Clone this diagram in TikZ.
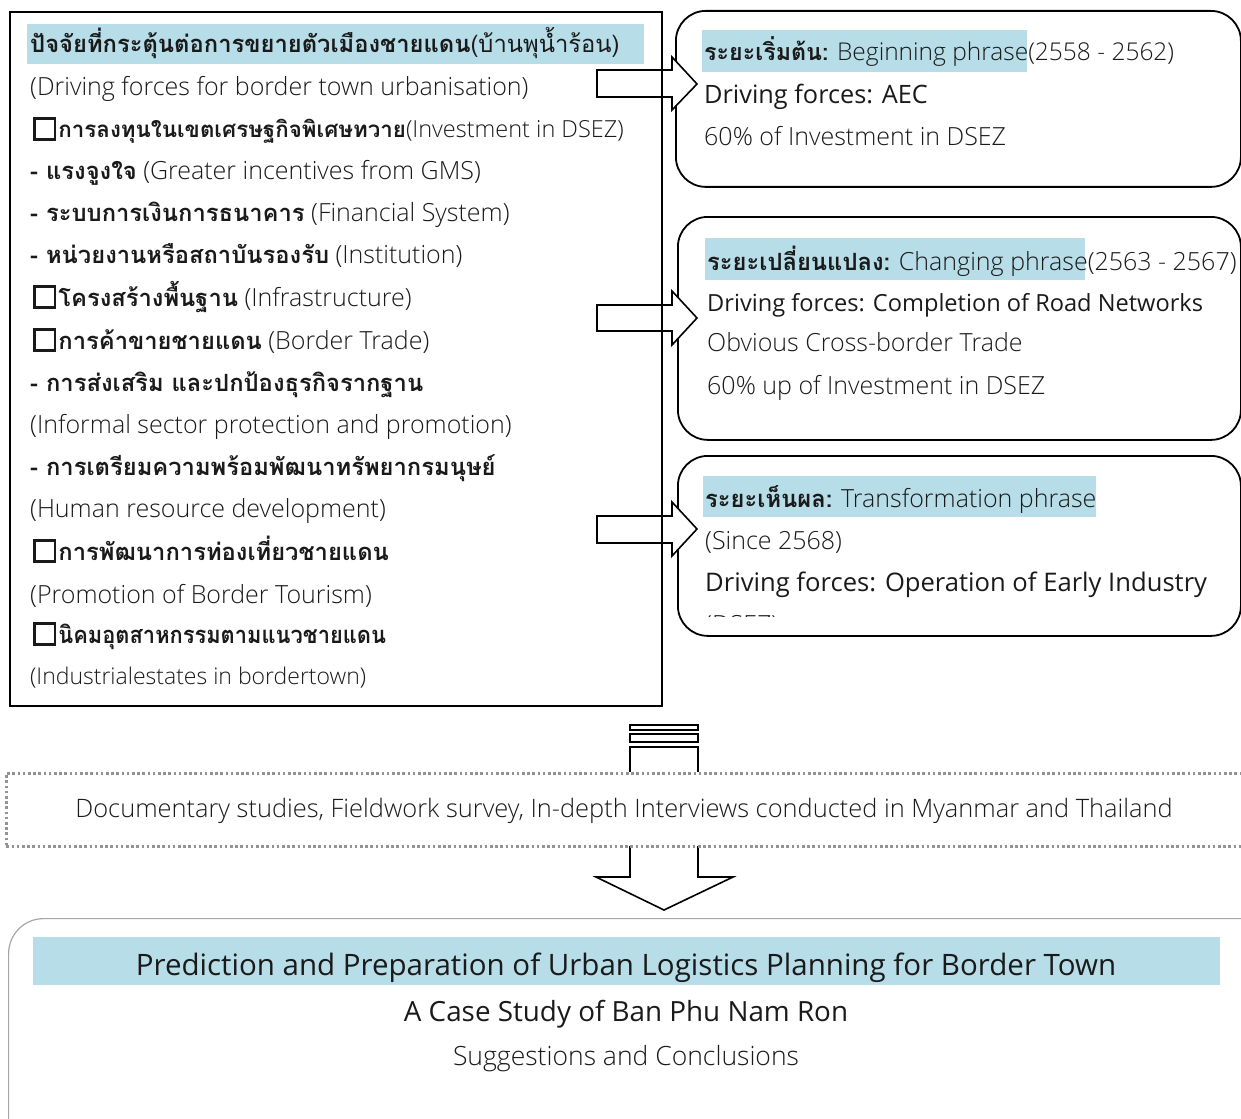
\documentclass[tikz,border=0pt]{standalone}
\usepackage{fontspec}
\IfFontExistsTF{Open Sans Light}{\setmainfont{Open Sans Light}[BoldFont=Open Sans]}{\setmainfont{Open Sans}}
\newfontfamily\thf[Script=Thai, Scale=0.95]{Loma}
\newcommand\TB[1]{{\thf\bfseries #1}}
\newcommand\TR[1]{{\thf #1}}
\newcommand\chk{{\fboxsep=0pt\fboxrule=2.6pt\fbox{\rule{0pt}{18pt}\hspace{18pt}}}\hspace{2pt}}
\definecolor{hl}{HTML}{B7DDE8}
\definecolor{txt}{HTML}{1A1A1A}
\tikzset{
  lbl/.style={anchor=base west, inner sep=0pt, text=txt, font=\fontsize{25}{29}\selectfont},
  bld/.style={lbl, font=\fontsize{25.3}{29}\selectfont\bfseries},
  ctr/.style={anchor=base, inner sep=0pt, text=txt},
  rbox/.style={draw, line width=1.8pt, rounded corners=30pt, anchor=north west, inner sep=0pt},
  barrow/.style={draw, line width=1.6pt, fill=white, line join=miter},
  hlbox/.style={fill=hl, draw=none, anchor=north west, inner sep=0pt},
}
\begin{document}
\begin{tikzpicture}[x=1pt, y=-1pt]
\useasboundingbox (0,0) rectangle (1241,1118);
% right phase boxes
\node[rbox, minimum width=565pt, minimum height=176pt] (p1) at (675,10) {};
\node[rbox, minimum width=563pt, minimum height=223pt] (p2) at (677,216) {};
\node[rbox, minimum width=563pt, minimum height=180pt] (p3) at (677,455) {};
% highlights
\node[hlbox, minimum width=617pt, minimum height=40pt] (h0) at (27,24) {};
\node[hlbox, minimum width=325pt, minimum height=42pt] (h1) at (702,30) {};
\node[hlbox, minimum width=380pt, minimum height=42pt] (h2) at (705,238) {};
\node[hlbox, minimum width=393pt, minimum height=41pt] (h3) at (703,476) {};
% block arrows
\draw[barrow] (597,70) -- (672,70) -- (672,57) -- (697,84) -- (672,110) -- (672,97) -- (597,97) -- cycle;
\draw[barrow] (597,305) -- (672,305) -- (672,291) -- (697,318) -- (672,345) -- (672,331) -- (597,331) -- cycle;
\draw[barrow] (597,516) -- (672,516) -- (672,502) -- (697,529) -- (672,556) -- (672,543) -- (597,543) -- cycle;
% left box
\node[draw, line width=1.8pt, anchor=north west, inner sep=0pt, minimum width=652pt, minimum height=694pt] (factors) at (9,11) {};
% left texts
\node[lbl] (l1) at (30,53) {\TB{ปัจจัยที่กระตุ้นต่อการขยายตัวเมืองชายแดน}\TR{(บ้านพุน้ำร้อน)}};
\node[lbl] (l2) at (30,96) {(Driving forces for border town urbanisation)};
\node[lbl, font=\fontsize{23.5}{28}\selectfont] (l3) at (33,138) {\chk\TB{การลงทุนในเขตเศรษฐกิจพิเศษทวาย}(Investment in DSEZ)};
\node[lbl] (l4) at (30,179) {\TB{- แรงจูงใจ} (Greater incentives from GMS)};
\node[lbl] (l5) at (30,221) {\TB{- ระบบการเงินการธนาคาร} (Financial System)};
\node[lbl] (l6) at (30,263) {\TB{- หน่วยงานหรือสถาบันรองรับ} (Institution)};
\node[lbl] (l7) at (33,306) {\chk\TB{โครงสร้างพื้นฐาน} (Infrastructure)};
\node[lbl] (l8) at (33,349) {\chk\TB{การค้าขายชายแดน} (Border Trade)};
\node[lbl] (l9) at (30,391) {\TB{- การส่งเสริม และปกป้องธุรกิจรากฐาน}};
\node[lbl] (l10) at (30,433) {(Informal sector protection and promotion)};
\node[lbl] (l11) at (30,475) {\TB{- การเตรียมความพร้อมพัฒนาทรัพยากรมนุษย์}};
\node[lbl] (l12) at (30,517) {(Human resource development)};
\node[lbl] (l13) at (33,560) {\chk\TB{การพัฒนาการท่องเที่ยวชายแดน}};
\node[lbl] (l14) at (30,603) {(Promotion of Border Tourism)};
\node[lbl] (l15) at (33,643) {\chk\scalebox{0.92}[1]{\TB{นิคมอุตสาหกรรมตามแนวชายแดน}}};
\node[lbl, font=\fontsize{23}{28}\selectfont] (l16) at (30,684) {(Industrialestates in bordertown)};
% phase 1 texts
\node[lbl, font=\fontsize{24.5}{29}\selectfont] (a1) at (704,61) {\TB{ระยะเริ่มต้น:} Beginning phrase(2558 - 2562)};
\node[bld] (a2) at (704,104) {Driving forces: AEC};
\node[lbl] (a3) at (704,146) {60\% of Investment in DSEZ};
% phase 2 texts
\node[lbl] (b1) at (707,270) {\TB{ระยะเปลี่ยนแปลง:} Changing phrase(2563 - 2567)};
\node[bld, font=\fontsize{23.6}{28}\selectfont\bfseries] (b2) at (707,311) {Driving forces: Completion of Road Networks};
\node[lbl] (b3) at (707,351) {Obvious Cross-border Trade};
\node[lbl] (b4) at (707,394) {60\% up of Investment in DSEZ};
% phase 3 texts
\node[lbl] (c1) at (705,507) {\TB{ระยะเห็นผล:} Transformation phrase};
\node[lbl] (c2) at (705,549) {(Since 2568)};
\node[bld, font=\fontsize{25.6}{29}\selectfont\bfseries] (c3) at (705,591) {Driving forces: Operation of Early Industry};
\begin{scope}
\clip (690,455) rectangle (1240,616);
\node[lbl] (c4) at (705,633) {(DSEZ)};
\end{scope}
% middle down arrow
\draw[barrow, fill=none] (630,725) rectangle (698,730);
\draw[barrow, fill=none] (630,734) rectangle (698,742);
\draw[barrow, fill=none] (630,772) -- (630,747) -- (698,747) -- (698,772);
\draw[barrow, fill=none] (630,846) -- (630,877) -- (596,877) -- (664,910) -- (733,877) -- (698,877) -- (698,846);
% dotted methods box
\node[draw=gray!85, line width=2.6pt, dash pattern=on 2.6pt off 2.6pt, anchor=north west, inner sep=0pt, minimum width=1260pt, minimum height=73pt] (methods) at (5,772) {};
\node[ctr, font=\fontsize{25.4}{29}\selectfont] (mt) at (624,817) {Documentary studies, Fieldwork survey, In-depth Interviews conducted in Myanmar and Thailand};
% bottom result box
\node[draw=gray!70, line width=1.2pt, rounded corners=35pt, anchor=north west, inner sep=0pt, minimum width=1280pt, minimum height=240pt] (result) at (8,918) {};
\node[hlbox, minimum width=1187pt, minimum height=48pt] (h4) at (33,937) {};
\node[ctr, font=\fontsize{29.5}{33}\selectfont\bfseries] (t1) at (626,975) {Prediction and Preparation of Urban Logistics Planning for Border Town};
\node[ctr, font=\fontsize{27.8}{32}\selectfont\bfseries] (t2) at (626,1021) {A Case Study of Ban Phu Nam Ron};
\node[ctr, font=\fontsize{26.5}{30}\selectfont] (t3) at (626,1065) {Suggestions and Conclusions};
\end{tikzpicture}
\end{document}
